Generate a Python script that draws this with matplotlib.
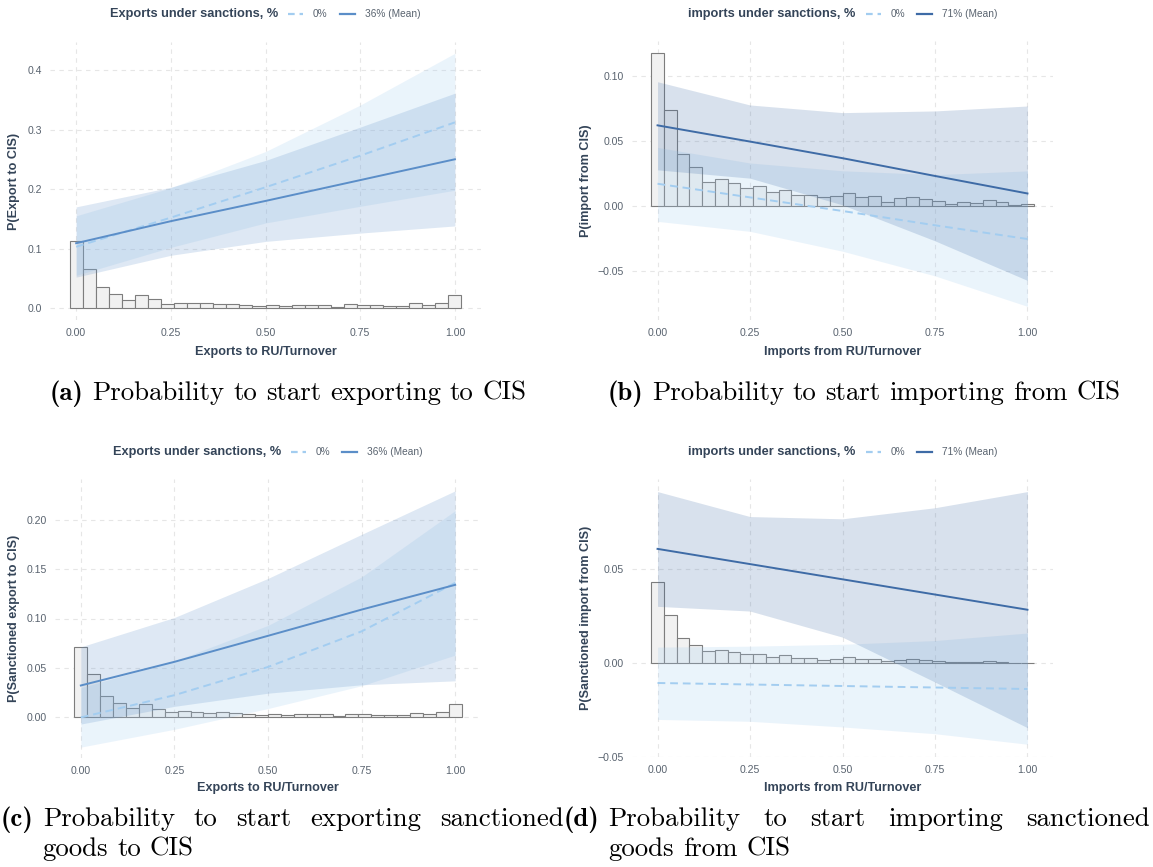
import numpy as np
import matplotlib.pyplot as plt
from matplotlib.lines import Line2D

W, H = 1153, 867
plt.rcParams['font.family'] = ['Liberation Sans', 'DejaVu Sans']

# ---- data ----
xg = [0.0, 0.25, 0.5, 0.75, 1.0]
nbins = 30
xticks = [0.0, 0.25, 0.5, 0.75, 1.0]
xticklabels = ['0.00', '0.25', '0.50', '0.75', '1.00']

# (a) export to CIS
a_hist = [0.113, 0.065, 0.0354, 0.0236, 0.014, 0.022, 0.015, 0.0067, 0.0084, 0.0079,
          0.0079, 0.0067, 0.0067, 0.0056, 0.0034, 0.005, 0.0034, 0.005, 0.005, 0.0056,
          0.0017, 0.0067, 0.005, 0.005, 0.0034, 0.0034, 0.0084, 0.0056, 0.0084, 0.0225]
a_zero = [0.103, 0.152, 0.203, 0.256, 0.312]
a_zero_lo = [0.055, 0.102, 0.143, 0.171, 0.198]
a_zero_hi = [0.155, 0.202, 0.263, 0.341, 0.428]
a_mean = [0.109, 0.146, 0.180, 0.215, 0.250]
a_mean_lo = [0.052, 0.0887, 0.112, 0.126, 0.138]
a_mean_hi = [0.170, 0.203, 0.248, 0.304, 0.361]

# (b) import from CIS
b_hist = [0.1175, 0.0738, 0.0403, 0.030, 0.0182, 0.021, 0.0177, 0.0138, 0.0149, 0.0103,
          0.012, 0.0082, 0.008, 0.0064, 0.0072, 0.0095, 0.0069, 0.0072, 0.0026, 0.0059,
          0.0064, 0.0049, 0.0038, 0.0013, 0.0026, 0.0018, 0.0044, 0.0026, 0.0008, 0.0013]
b_zero = [0.017, 0.0065, -0.004, -0.015, -0.0256]
b_zero_lo = [-0.012, -0.0197, -0.035, -0.054, -0.0775]
b_zero_hi = [0.045, 0.033, 0.027, 0.024, 0.0269]
b_mean = [0.062, 0.0495, 0.0367, 0.023, 0.0095]
b_mean_lo = [0.0277, 0.0213, 0.0007, -0.027, -0.0575]
b_mean_hi = [0.0956, 0.0777, 0.0718, 0.0731, 0.0769]

# (c) sanctioned export to CIS
c_hist = [0.0711, 0.0442, 0.0214, 0.0143, 0.0092, 0.0139, 0.0085, 0.0051, 0.0065, 0.0051,
          0.0044, 0.0051, 0.0041, 0.0037, 0.0027, 0.0031, 0.0024, 0.0034, 0.0031, 0.0037,
          0.001, 0.0034, 0.0037, 0.0027, 0.0027, 0.002, 0.0044, 0.0037, 0.0051, 0.0133]
c_zero = [0.0, 0.0225, 0.051, 0.087, 0.136]
c_zero_lo = [-0.030, -0.012, 0.009, 0.032, 0.063]
c_zero_hi = [0.030, 0.057, 0.093, 0.142, 0.209]
c_mean = [0.0323, 0.0562, 0.0825, 0.109, 0.134]
c_mean_lo = [-0.0067, 0.0112, 0.0245, 0.033, 0.037]
c_mean_hi = [0.0713, 0.101, 0.1405, 0.185, 0.229]

# (d) sanctioned import from CIS
d_hist = [0.0429, 0.0255, 0.0136, 0.0098, 0.0063, 0.0071, 0.0061, 0.0046, 0.005, 0.0034,
          0.0043, 0.0029, 0.0025, 0.0018, 0.0023, 0.003, 0.0021, 0.0023, 0.0009, 0.0018,
          0.0021, 0.0016, 0.0013, 0.0004, 0.0007, 0.0005, 0.0013, 0.0007, 0.0002, 0.0002]
d_zero = [-0.0106, -0.0114, -0.0122, -0.013, -0.0138]
d_zero_lo = [-0.030, -0.031, -0.034, -0.0376, -0.0432]
d_zero_hi = [0.0085, 0.009, 0.010, 0.012, 0.016]
d_mean = [0.0608, 0.0527, 0.0446, 0.0365, 0.0284]
d_mean_lo = [0.0302, 0.0277, 0.0138, -0.0101, -0.0344]
d_mean_hi = [0.0913, 0.078, 0.0768, 0.0827, 0.0913]

TXT = '#344458'
TICK = '#59636f'
ZERO_C = '#a3cdf0'
MEAN_EXP = '#5b8ec8'
MEAN_IMP = '#3e6ba6'

fig = plt.figure(figsize=(W / 100, H / 100), dpi=100)


def px_axes(left, top, right, bottom):
    return fig.add_axes([left / W, 1 - bottom / H, (right - left) / W, (bottom - top) / H])


def panel(box, hist, zero, zlo, zhi, mean, mlo, mhi, mcol, ylim, yticks, yfmt,
          xlabel, ylabel, xl_y, yl_x):
    ax = px_axes(*box)
    centers = np.arange(nbins) / (nbins - 1)
    ax.bar(centers, hist, width=1 / (nbins - 1), color='#f1f1f1', edgecolor='#7d7d7d',
           linewidth=0.8, zorder=1)
    ax.fill_between(xg, zlo, zhi, color=ZERO_C, alpha=0.22, lw=0, zorder=2)
    ax.fill_between(xg, mlo, mhi, color=mcol, alpha=0.2, lw=0, zorder=2)
    ax.plot(xg, zero, color=ZERO_C, lw=1.4, ls=(0, (4, 2.5)), zorder=3)
    ax.plot(xg, mean, color=mcol, lw=1.4, zorder=3)
    ax.set_xlim(-0.069, 1.069)
    ax.set_ylim(*ylim)
    ax.set_xticks(xticks)
    ax.set_xticklabels(xticklabels)
    ax.set_yticks(yticks)
    ax.set_yticklabels([yfmt.format(v).replace('-', '\u2212') for v in yticks])
    ax.tick_params(length=0, labelsize=7.6, labelcolor=TICK, pad=6)
    for s in ax.spines.values():
        s.set_visible(False)
    ax.grid(True, ls=(0, (4, 4)), color='#e6e6e6', lw=0.8)
    ax.set_axisbelow(True)
    ax.set_xlabel(xlabel, fontsize=9.1, fontweight='bold', color=TXT, va='center')
    ax.set_ylabel(ylabel, fontsize=9.1, fontweight='bold', color=TXT, va='center')
    x0, y0 = box[0], box[1]
    ax.xaxis.set_label_coords(0.5, 1 - (xl_y - y0) / (box[3] - y0))
    ax.yaxis.set_label_coords((yl_x - x0) / (box[2] - x0), 0.5)
    return ax


def legend(y, title, mlabel, mcol, x_title, x_h1, x_l1, x_h2, x_l2):
    fy = 1 - y / H
    fig.text(x_title / W, fy, title, fontsize=9.2, fontweight='bold', color=TXT, va='center')
    fig.add_artist(Line2D([x_h1 / W, (x_h1 + 15) / W], [fy, fy], transform=fig.transFigure,
                          color=ZERO_C, lw=1.6, ls=(0, (3, 2.2))))
    fig.text(x_l1 / W, fy, '0%', fontsize=7.3, color=TICK, va='center')
    fig.add_artist(Line2D([x_h2 / W, (x_h2 + 15) / W], [fy, fy], transform=fig.transFigure,
                          color=mcol, lw=1.6))
    fig.text(x_l2 / W, fy, mlabel, fontsize=7.3, color=TICK, va='center')


panel((50, 42, 481, 320), a_hist, a_zero, a_zero_lo, a_zero_hi, a_mean, a_mean_lo, a_mean_hi,
      MEAN_EXP, (-0.02, 0.447), [0.0, 0.1, 0.2, 0.3, 0.4], '{:.1f}',
      'Exports to RU/Turnover', 'P(Export to CIS)', 352, 14)
panel((632, 41, 1053, 320), b_hist, b_zero, b_zero_lo, b_zero_hi, b_mean, b_mean_lo, b_mean_hi,
      MEAN_IMP, (-0.088, 0.127), [-0.05, 0.0, 0.05, 0.10], '{:.2f}',
      'Imports from RU/Turnover', 'P(import from CIS)', 352, 586)
panel((55, 479, 481, 758), c_hist, c_zero, c_zero_lo, c_zero_hi, c_mean, c_mean_lo, c_mean_hi,
      MEAN_EXP, (-0.041, 0.241), [0.0, 0.05, 0.10, 0.15, 0.20], '{:.2f}',
      'Exports to RU/Turnover', 'P(Sanctioned export to CIS)', 788, 14)
panel((632, 479, 1053, 757), d_hist, d_zero, d_zero_lo, d_zero_hi, d_mean, d_mean_lo, d_mean_hi,
      MEAN_IMP, (-0.050, 0.098), [-0.05, 0.0, 0.05], '{:.2f}',
      'Imports from RU/Turnover', 'P(Sanctioned import from CIS)', 788, 586)

legend(14, 'Exports under sanctions, %', '36% (Mean)', MEAN_EXP, 110, 288, 313, 340, 365)
legend(14, 'imports under sanctions, %', '71% (Mean)', MEAN_IMP, 688, 866, 891, 917, 942)
legend(452, 'Exports under sanctions, %', '36% (Mean)', MEAN_EXP, 113, 291, 316, 342, 367)
legend(452, 'imports under sanctions, %', '71% (Mean)', MEAN_IMP, 688, 866, 891, 917, 942)

# ---- captions ----
renderer = fig.canvas.get_renderer()
CAP = 19.3
SPACE = CAP * 0.333 * 100 / 72


def make(parts, y):
    texts = [fig.text(0, 1 - y / H, s, family=f, fontsize=CAP, va='baseline', color='black')
             for s, f in parts]
    widths = [t.get_window_extent(renderer).width for t in texts]
    return texts, widths


def place(texts, widths, x0, gap):
    x = x0
    for t, w in zip(texts, widths):
        t.set_x(x / W)
        x += w + gap
    return x


def centered(label, text, xc, y):
    texts, widths = make([(label, 'cmb10')] + [(w, 'cmr10') for w in text.split()], y)
    total = sum(widths) + SPACE * (len(widths) - 1)
    place(texts, widths, xc - total / 2, SPACE)


def hanging(label, line1, line2, x0, x1, y1, y2):
    lt, lw = make([(label, 'cmb10')], y1)
    place(lt, lw, x0, 0)
    indent = x0 + lw[0] + SPACE
    t1, w1 = make([(w, 'cmr10') for w in line1.split()], y1)
    place(t1, w1, indent, (x1 - indent - sum(w1)) / (len(w1) - 1))
    t2, w2 = make([(w, 'cmr10') for w in line2.split()], y2)
    place(t2, w2, indent, SPACE)


centered('(a)', 'Probability to start exporting to CIS', 288, 400)
centered('(b)', 'Probability to start importing from CIS', 864, 400)
hanging('(c)', 'Probability to start exporting sanctioned', 'goods to CIS', 1, 564, 826, 856)
hanging('(d)', 'Probability to start importing sanctioned', 'goods from CIS', 564, 1150, 826, 856)

fig.savefig('out.png', dpi=100)
